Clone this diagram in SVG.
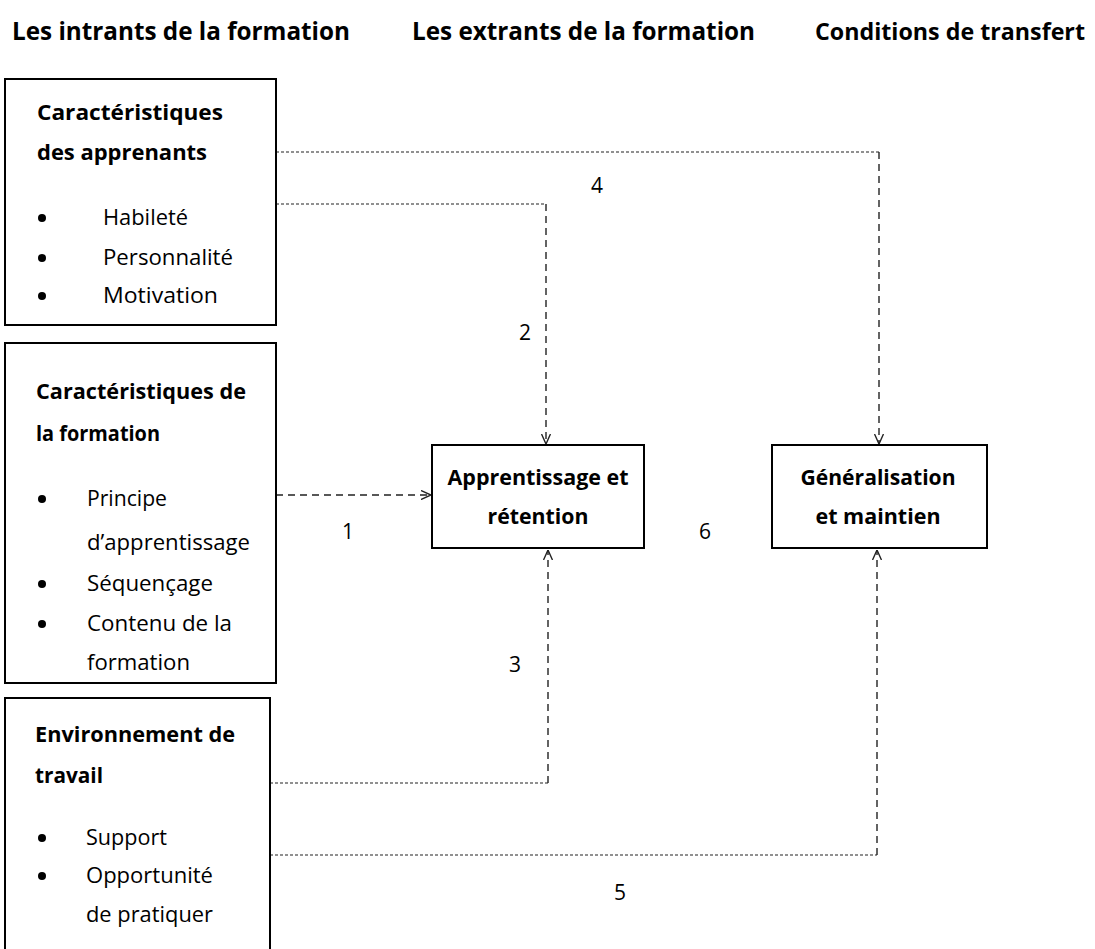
<svg xmlns="http://www.w3.org/2000/svg" width="1095" height="949" viewBox="0 0 1095 949">
<style>
text{font-family:"Open Sans","Noto Sans","Liberation Sans",sans-serif;fill:#000}
.h{font-size:25px;font-weight:bold}
.t{font-size:22px;font-weight:bold}
.b{font-size:21px}
.n{font-size:21px}
.box{fill:#fff;stroke:#000;stroke-width:2}
.dot{stroke:#222;stroke-width:1.2;stroke-dasharray:3 2;fill:none}
.dash{stroke:#222;stroke-width:1.4;stroke-dasharray:7 5;fill:none}
.bul{fill:#000}
</style>
<defs>
<marker id="ah" viewBox="0 0 10 10" refX="10" refY="5" markerWidth="10" markerHeight="10" markerUnits="userSpaceOnUse" orient="auto">
<path d="M0,0.5 L10,5 L0,9.5" fill="none" stroke="#222" stroke-width="1.4"/>
</marker>
</defs>
<g id="headers">
<text class="h" x="12" y="40" textLength="338" lengthAdjust="spacingAndGlyphs">Les intrants de la formation</text>
<text class="h" x="412" y="40" textLength="343" lengthAdjust="spacingAndGlyphs">Les extrants de la formation</text>
<text class="h" x="815" y="40" style="font-size:23.3px" textLength="270" lengthAdjust="spacingAndGlyphs">Conditions de transfert</text>
</g>
<g id="connectors">
<line class="dot" x1="276" y1="152" x2="879" y2="152"/>
<line class="dash" x1="879" y1="152" x2="879" y2="444" marker-end="url(#ah)"/>
<line class="dot" x1="276" y1="204" x2="546" y2="204"/>
<line class="dash" x1="546" y1="204" x2="546" y2="444" marker-end="url(#ah)"/>
<line class="dash" x1="276" y1="495" x2="431" y2="495" stroke-width="1.6" marker-end="url(#ah)"/>
<line class="dot" x1="270" y1="783" x2="548" y2="783"/>
<line class="dash" x1="548" y1="783" x2="548" y2="550" marker-end="url(#ah)"/>
<line class="dot" x1="270" y1="855" x2="877" y2="855"/>
<line class="dash" x1="877" y1="855" x2="877" y2="550" marker-end="url(#ah)"/>
<text class="n" x="597" y="193" text-anchor="middle">4</text>
<text class="n" x="525" y="340" text-anchor="middle">2</text>
<text class="n" x="348" y="539" text-anchor="middle">1</text>
<text class="n" x="705" y="539" text-anchor="middle">6</text>
<text class="n" x="515" y="672" text-anchor="middle">3</text>
<text class="n" x="620" y="900" text-anchor="middle">5</text>
</g>
<g id="apprenants">
<rect class="box" x="5" y="79" width="271" height="246"/>
<text class="t" x="37" y="120" textLength="186" lengthAdjust="spacingAndGlyphs">Caractéristiques</text>
<text class="t" x="37" y="160" textLength="170" lengthAdjust="spacingAndGlyphs">des apprenants</text>
<circle class="bul" cx="42" cy="218" r="4"/>
<text class="b" x="103" y="225" textLength="85" lengthAdjust="spacingAndGlyphs">Habileté</text>
<circle class="bul" cx="42" cy="258" r="4"/>
<text class="b" x="103" y="265" textLength="130" lengthAdjust="spacingAndGlyphs">Personnalité</text>
<circle class="bul" cx="42" cy="296" r="4"/>
<text class="b" x="103" y="303" textLength="115" lengthAdjust="spacingAndGlyphs">Motivation</text>
</g>
<g id="formation">
<rect class="box" x="5" y="343" width="271" height="340"/>
<text class="t" x="36" y="399" textLength="210" lengthAdjust="spacingAndGlyphs">Caractéristiques de</text>
<text class="t" x="36" y="441" textLength="124" lengthAdjust="spacingAndGlyphs">la formation</text>
<circle class="bul" cx="42" cy="499" r="4"/>
<text class="b" x="87" y="506" textLength="80" lengthAdjust="spacingAndGlyphs">Principe</text>
<text class="b" x="87" y="550" textLength="163" lengthAdjust="spacingAndGlyphs">d’apprentissage</text>
<circle class="bul" cx="42" cy="584" r="4"/>
<text class="b" x="87" y="591" textLength="126" lengthAdjust="spacingAndGlyphs">Séquençage</text>
<circle class="bul" cx="42" cy="624" r="4"/>
<text class="b" x="87" y="631" textLength="145" lengthAdjust="spacingAndGlyphs">Contenu de la</text>
<text class="b" x="87" y="670" textLength="103" lengthAdjust="spacingAndGlyphs">formation</text>
</g>
<g id="environnement">
<rect class="box" x="5" y="698" width="265" height="260"/>
<text class="t" x="35" y="742" textLength="200" lengthAdjust="spacingAndGlyphs">Environnement de</text>
<text class="t" x="35" y="783" textLength="68" lengthAdjust="spacingAndGlyphs">travail</text>
<circle class="bul" cx="42" cy="838" r="4"/>
<text class="b" x="86" y="845" textLength="81" lengthAdjust="spacingAndGlyphs">Support</text>
<circle class="bul" cx="42" cy="876" r="4"/>
<text class="b" x="86" y="883" textLength="127" lengthAdjust="spacingAndGlyphs">Opportunité</text>
<text class="b" x="86" y="922" textLength="127" lengthAdjust="spacingAndGlyphs">de pratiquer</text>
</g>
<g id="apprentissage">
<rect class="box" x="432" y="445" width="212" height="103"/>
<text class="t" x="538" y="485" text-anchor="middle" textLength="181" lengthAdjust="spacingAndGlyphs">Apprentissage et</text>
<text class="t" x="538" y="524" text-anchor="middle" textLength="101" lengthAdjust="spacingAndGlyphs">rétention</text>
</g>
<g id="generalisation">
<rect class="box" x="772" y="445" width="215" height="103"/>
<text class="t" x="878" y="485" text-anchor="middle" textLength="155" lengthAdjust="spacingAndGlyphs">Généralisation</text>
<text class="t" x="878" y="524" text-anchor="middle" textLength="125" lengthAdjust="spacingAndGlyphs">et maintien</text>
</g>
</svg>
